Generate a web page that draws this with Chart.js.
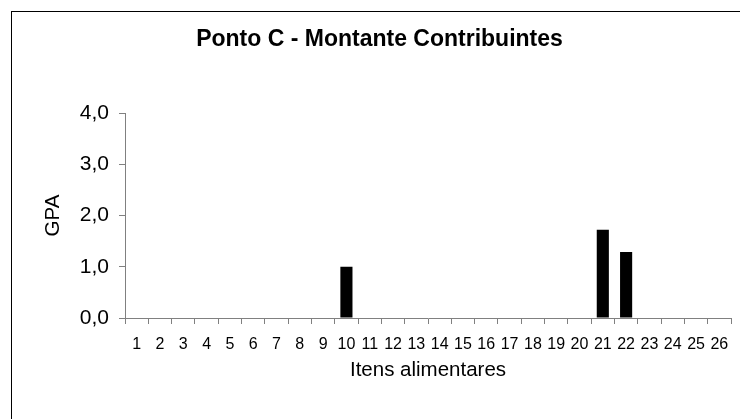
<!DOCTYPE html>
<html>
<head>
<meta charset="utf-8">
<script src="https://cdn.jsdelivr.net/npm/chart.js@4.4.1/dist/chart.umd.min.js"></script>
<style>
  html, body { margin: 0; padding: 0; background: #fff; overflow: hidden; }
  #wrap { position: relative; width: 740px; height: 419px; }
  /* outer chart frame, only its left and top edges are inside the window */
  #frame { position: absolute; left: 11px; top: 11px; width: 800px; height: 500px; border: 1px solid #000; }
  #chart { position: absolute; left: 0; top: 0; }
</style>
</head>
<body>
<div id="wrap">
  <div id="frame"></div>
  <canvas id="chart" width="740" height="419"></canvas>
</div>
<script>
const items = ["1","2","3","4","5","6","7","8","9","10","11","12","13",
               "14","15","16","17","18","19","20","21","22","23","24","25","26"];
const gpa = [0, 0, 0, 0, 0, 0, 0, 0, 0, 1.0, 0, 0, 0,
             0, 0, 0, 0, 0, 0, 0, 1.72, 1.29, 0, 0, 0, 0];
const yTicks = [0, 1, 2, 3, 4];

const axisGrey = '#808080';
const family = '"Liberation Sans", Arial, sans-serif';

Chart.defaults.color = '#000';
Chart.defaults.font.family = family;

new Chart(document.getElementById('chart'), {
  type: 'bar',
  data: {
    labels: items,
    datasets: [{
      data: gpa,
      backgroundColor: '#000',
      borderWidth: 0,
      barPercentage: 0.52,
      categoryPercentage: 1
    }]
  },
  options: {
    responsive: false,
    animation: false,
    layout: { padding: { left: 28, right: 9, top: 0, bottom: 0 } },
    plugins: {
      legend: { display: false },
      tooltip: { enabled: false },
      title: {
        display: true,
        text: 'Ponto C - Montante Contribuintes',
        color: '#000',
        font: { size: 23, weight: 'bold', family: family },
        padding: { top: 26.2, bottom: 59.2 }
      }
    },
    scales: {
      x: {
        afterFit: (scale) => { scale.height = 101; },
        border: { display: true, color: axisGrey, width: 1 },
        grid: { display: true, offset: true, drawOnChartArea: false, drawTicks: true,
                tickLength: 6, color: axisGrey },
        ticks: { autoSkip: false, maxRotation: 0, minRotation: 0, padding: 11,
                 font: { size: 16 }, color: '#000' },
        title: { display: true, text: 'Itens alimentares', color: '#000',
                 font: { size: 20.5 }, padding: { top: 0, bottom: 36.5 } }
      },
      y: {
        min: 0,
        max: 4,
        afterFit: (scale) => { scale.width = 97; },
        afterBuildTicks: (scale) => { scale.ticks = yTicks.map(v => ({ value: v })); },
        border: { display: true, color: axisGrey, width: 1 },
        grid: { display: true, drawOnChartArea: false, drawTicks: true,
                tickLength: 6, color: axisGrey },
        ticks: { padding: 10, font: { size: 21 }, color: '#000',
                 callback: (v) => Number(v).toFixed(1).replace('.', ',') },
        title: { display: true, text: 'GPA', color: '#000',
                 font: { size: 20.5 }, padding: { top: 12.7, bottom: 0 } }
      }
    }
  }
});
</script>
</body>
</html>
